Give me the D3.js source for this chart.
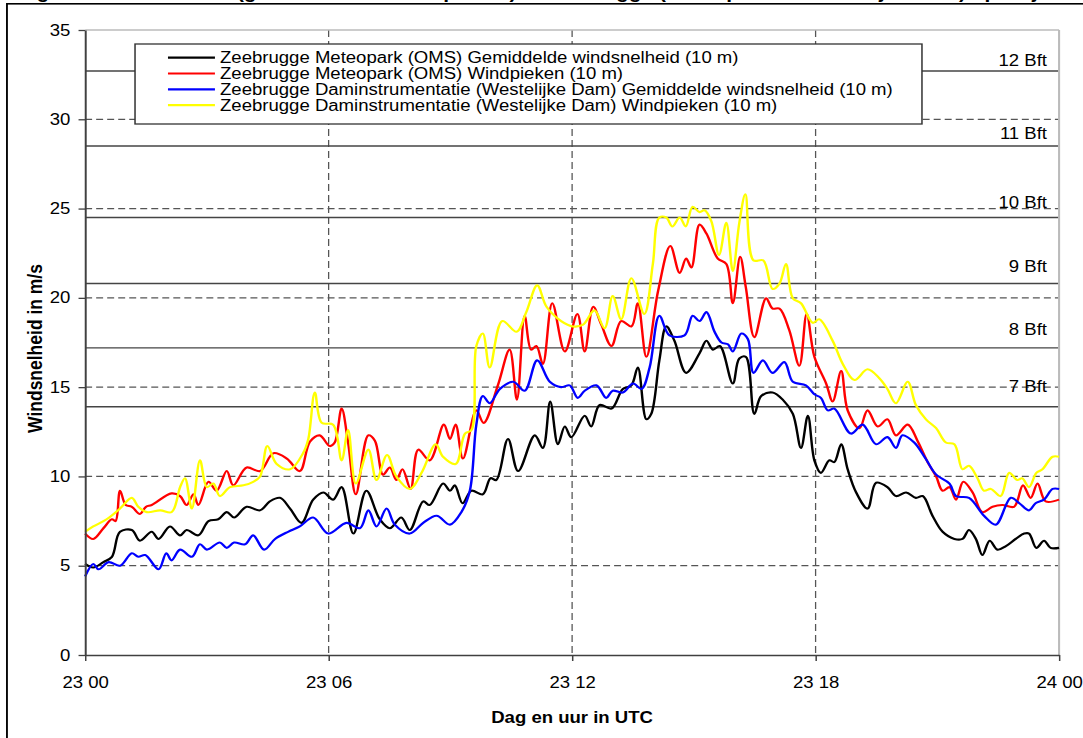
<!DOCTYPE html>
<html>
<head>
<meta charset="utf-8">
<script src="https://cdn.jsdelivr.net/npm/d3@7"></script>
<style>
  body { margin: 0; background: #fff; }
  text { font-family: "Liberation Sans", Arial, sans-serif; }
</style>
</head>
<body>
<div id="chart"></div>
<script>
// time in hours since 23 00 UTC, wind speed in m/s
let omsMean = [[0,5.1],[0.2,4.9],[0.45,5.2],[0.66,5.5],[0.86,6.9],[1.15,7.0],[1.35,6.4],[1.64,6.9],[1.81,6.5],[2.09,7.2],[2.34,6.7],[2.5,7.0],[2.79,6.7],[3.04,7.5],[3.28,7.6],[3.49,8.0],[3.67,7.7],[3.98,8.3],[4.31,8.1],[4.55,8.6],[4.8,8.8],[5.05,8.2],[5.33,7.4],[5.62,8.7],[5.87,9.1],[6.11,8.7],[6.32,9.4],[6.61,6.8],[6.93,9.2],[7.26,7.6],[7.51,7.1],[7.79,7.7],[8.0,7.0],[8.33,8.6],[8.49,8.4],[8.82,9.6],[8.99,9.2],[9.11,9.5],[9.3,8.5],[9.52,9.2],[9.8,9.0],[9.99,9.9],[10.13,9.8],[10.42,12.1],[10.67,10.3],[11.08,12.3],[11.28,11.6],[11.46,14.2],[11.65,11.8],[11.82,12.8],[11.98,12.2],[12.31,13.4],[12.47,12.8],[12.68,14.0],[12.97,13.8],[13.25,14.9],[13.46,15.1],[13.62,16.1],[13.83,13.2],[13.95,13.5],[14.15,16.5],[14.32,18.4],[14.52,17.6],[14.81,15.8],[15.14,16.9],[15.31,17.6],[15.47,17.1],[15.64,17.3],[15.96,15.2],[16.12,16.6],[16.28,16.7],[16.49,13.5],[16.66,14.5],[16.94,14.7],[17.19,14.3],[17.44,13.5],[17.64,11.6],[17.81,13.4],[17.97,10.9],[18.13,10.2],[18.34,10.9],[18.46,10.8],[18.63,11.8],[18.79,10.4],[19.0,9.1],[19.28,8.2],[19.49,9.65],[19.77,9.4],[19.98,8.9],[20.23,9.1],[20.47,8.8],[20.64,8.9],[20.88,7.8],[21.13,6.9],[21.42,6.5],[21.62,6.5],[21.78,7.0],[21.95,6.5],[22.11,5.6],[22.29,6.4],[22.48,5.9],[22.69,6.1],[22.93,6.5],[23.14,6.8],[23.26,6.8],[23.44,6.0],[23.63,6.4],[23.79,6.0],[24,6.0]];

let omsGust = [[0,6.8],[0.2,6.5],[0.45,7.1],[0.66,7.6],[0.75,7.5],[0.86,9.2],[1.0,8.4],[1.15,8.3],[1.35,7.9],[1.5,8.3],[1.64,8.4],[2.13,9.05],[2.34,8.9],[2.5,8.4],[2.67,9.0],[2.79,8.4],[3.04,9.7],[3.24,9.2],[3.49,10.3],[3.65,9.5],[3.98,10.5],[4.31,10.3],[4.64,11.3],[4.97,11.0],[5.29,10.3],[5.54,11.95],[5.78,12.3],[6.03,11.7],[6.15,11.9],[6.32,13.8],[6.48,11.9],[6.67,9.0],[6.98,12.3],[7.14,12.0],[7.34,10.1],[7.51,10.5],[7.67,9.8],[7.82,10.4],[8.02,9.3],[8.21,11.5],[8.49,10.9],[8.84,12.9],[8.99,12.1],[9.13,12.9],[9.31,11.0],[9.64,13.7],[9.82,13.0],[10.17,15.1],[10.46,17.1],[10.64,14.3],[10.83,19.0],[10.99,17.1],[11.12,17.3],[11.28,16.3],[11.51,19.7],[11.82,17.0],[12.13,19.1],[12.31,17.0],[12.52,19.5],[12.72,18.5],[12.97,17.3],[13.21,18.7],[13.46,18.4],[13.62,19.7],[13.83,16.7],[14.12,20.4],[14.42,22.9],[14.65,21.4],[14.81,22.2],[14.94,21.7],[15.14,24.1],[15.31,23.6],[15.59,22.2],[15.8,21.9],[15.96,19.7],[16.14,22.3],[16.28,20.6],[16.49,17.8],[16.78,19.97],[16.94,19.4],[17.11,19.4],[17.35,18.2],[17.6,16.2],[17.78,19.1],[17.97,16.7],[18.26,15.2],[18.42,14.2],[18.63,15.9],[18.79,13.7],[19.08,12.7],[19.28,13.7],[19.53,12.8],[19.77,13.2],[19.98,12.3],[20.27,12.9],[20.51,12.0],[20.76,10.8],[20.97,10.0],[21.13,9.2],[21.3,9.4],[21.46,8.7],[21.64,9.7],[21.87,9.1],[22.11,8.0],[22.36,8.3],[22.6,8.4],[22.89,8.3],[23.11,9.5],[23.3,8.8],[23.47,9.6],[23.67,8.6],[24,8.7]];

let damMean = [[0,4.4],[0.2,5.1],[0.33,4.8],[0.58,5.2],[0.86,5.0],[1.15,5.7],[1.31,5.5],[1.48,5.6],[1.81,4.8],[2.0,5.7],[2.13,5.3],[2.34,5.9],[2.63,5.5],[2.83,6.2],[3.0,5.9],[3.32,6.3],[3.49,6.0],[3.67,6.3],[3.94,6.2],[4.14,6.7],[4.41,5.9],[4.68,6.5],[5.0,6.9],[5.29,7.2],[5.62,7.7],[5.99,6.8],[6.44,7.4],[6.77,7.1],[6.98,8.1],[7.18,7.2],[7.43,8.2],[7.63,7.3],[8.0,6.8],[8.33,7.4],[8.66,7.8],[8.99,7.3],[9.27,8.0],[9.48,9.2],[9.64,12.9],[9.8,14.5],[9.97,14.1],[10.22,14.9],[10.55,15.3],[10.83,14.8],[11.14,16.5],[11.45,15.3],[11.73,15.0],[11.94,15.1],[12.14,14.4],[12.31,14.8],[12.6,15.1],[12.84,14.4],[13.0,14.8],[13.25,14.7],[13.5,15.2],[13.71,14.9],[13.91,16.1],[14.15,19.0],[14.4,17.9],[14.77,17.9],[14.97,19.0],[15.14,18.7],[15.31,19.2],[15.51,18.1],[15.68,17.5],[15.84,17.4],[15.96,17.0],[16.17,18.0],[16.33,17.7],[16.47,15.8],[16.7,16.5],[16.94,15.8],[17.23,16.4],[17.44,15.3],[17.76,15.1],[17.97,14.6],[18.13,14.4],[18.3,13.7],[18.46,13.8],[18.87,12.4],[19.16,12.9],[19.49,11.8],[19.77,12.2],[19.98,11.6],[20.14,12.3],[20.43,11.9],[20.71,11.0],[20.97,10.1],[21.3,9.6],[21.46,8.9],[21.78,8.8],[22.15,7.8],[22.44,7.3],[22.81,8.8],[23.02,8.5],[23.26,8.1],[23.42,8.5],[23.63,8.7],[23.84,9.3],[24,9.3]];

let damGust = [[0,6.9],[0.2,7.2],[0.53,7.6],[0.86,8.2],[1.15,8.8],[1.31,8.3],[1.52,8.0],[1.85,8.1],[2.13,8.0],[2.34,9.4],[2.46,9.9],[2.63,8.2],[2.83,10.9],[3.0,9.4],[3.16,9.6],[3.32,8.9],[3.57,9.4],[3.9,9.5],[4.14,9.7],[4.31,10.0],[4.49,11.7],[4.72,10.7],[5.05,10.4],[5.37,11.3],[5.5,12.1],[5.66,14.7],[5.83,13.0],[6.11,12.9],[6.32,10.9],[6.48,12.6],[6.67,9.6],[6.98,11.5],[7.18,9.8],[7.44,11.2],[7.67,10.0],[8.0,9.3],[8.29,10.2],[8.64,11.8],[8.82,11.1],[9.13,10.7],[9.36,12.4],[9.52,12.6],[9.64,17.3],[9.8,18.0],[9.97,16.1],[10.28,18.7],[10.63,18.1],[10.87,19.2],[11.14,20.7],[11.37,19.5],[11.73,18.7],[12.02,18.4],[12.27,18.5],[12.55,19.3],[12.8,18.3],[13.0,20.1],[13.21,18.8],[13.46,21.1],[13.78,19.1],[13.99,21.9],[14.15,24.5],[14.32,24.5],[14.47,24.0],[14.65,24.5],[14.8,24.0],[14.97,25.1],[15.14,24.8],[15.26,24.9],[15.43,24.3],[15.62,22.4],[15.8,24.2],[15.96,21.5],[16.12,24.2],[16.27,25.8],[16.47,22.1],[16.71,22.1],[16.94,20.5],[17.11,20.8],[17.27,21.9],[17.44,19.97],[17.64,19.7],[17.93,18.6],[18.09,18.8],[18.42,17.6],[18.67,16.3],[18.96,15.4],[19.28,16.0],[19.57,15.5],[19.77,14.9],[19.98,14.1],[20.27,15.3],[20.47,14.0],[20.72,13.2],[20.97,12.7],[21.21,11.9],[21.42,11.8],[21.62,10.4],[21.78,10.6],[21.99,9.9],[22.15,9.2],[22.32,9.3],[22.56,8.9],[22.77,10.2],[22.97,9.8],[23.09,9.9],[23.26,9.4],[23.44,10.2],[23.59,10.4],[23.84,11.1],[24,11.1]];

let seriesNames = [
    "Zeebrugge Meteopark (OMS) Gemiddelde windsnelheid (10 m)",
    "Zeebrugge Meteopark (OMS) Windpieken (10 m)",
    "Zeebrugge Daminstrumentatie (Westelijke Dam) Gemiddelde windsnelheid (10 m)",
    "Zeebrugge Daminstrumentatie (Westelijke Dam) Windpieken (10 m)"
];
let seriesColors = ["#000000", "#ff0000", "#0000ff", "#ffff00"];

let hourTicks = [0, 6, 12, 18, 24];
let hourLabels = ["23 00", "23 06", "23 12", "23 18", "24 00"];
let speedTicks = [0, 5, 10, 15, 20, 25, 30, 35];

// Beaufort thresholds (m/s)
let bftLevels = [13.9, 17.2, 20.8, 24.5, 28.5, 32.7];
let bftLabels = ["7 Bft", "8 Bft", "9 Bft", "10 Bft", "11 Bft", "12 Bft"];

let width = 1083,
    height = 738;
let stretch = 1.16;   // the original picture is a bit wider than tall

let svg = d3.select("#chart")
    .append("svg")
    .attr("width", width)
    .attr("height", height);

let g = svg.append("g")
    .attr("transform", `scale(${stretch},1)`);

let plot = {left: 73.4, right: 913, top: 30, bottom: 655};

let x = d3.scaleLinear().domain([0, 24]).range([plot.left, plot.right]);
let y = d3.scaleLinear().domain([0, 35]).range([plot.bottom, plot.top]);

// cut-off title above the frame
g.append("text")
    .attr("x", 15.5)
    .attr("y", -2.5)
    .style("font-size", "18px")
    .style("font-weight", "bold")
    .text("Figuur: Windsnelheid (gemiddelde en windpieken) te Zeebrugge (Meteopark en Westelijke Dam) op 23 januari");

// outer frame
g.append("rect")
    .attr("x", 6)
    .attr("y", 3.8)
    .attr("width", 1000)
    .attr("height", 800)
    .attr("fill", "none")
    .attr("stroke", "#000")
    .attr("stroke-width", 1.6);

// horizontal dashed grid
g.append("g").selectAll("line")
    .data(speedTicks.filter(d => d > 0 && d < 35))
    .enter().append("line")
    .attr("x1", plot.left).attr("x2", plot.right)
    .attr("y1", d => y(d)).attr("y2", d => y(d))
    .attr("stroke", "#555")
    .attr("stroke-width", 1.2)
    .attr("stroke-dasharray", "6,3.5");

// vertical dashed grid
g.append("g").selectAll("line")
    .data(hourTicks.filter(d => d > 0 && d < 24))
    .enter().append("line")
    .attr("x1", d => x(d)).attr("x2", d => x(d))
    .attr("y1", plot.top).attr("y2", plot.bottom)
    .attr("stroke", "#555")
    .attr("stroke-width", 1.1)
    .attr("stroke-dasharray", "7,4");

// Beaufort lines and labels
g.append("g").selectAll("line")
    .data(bftLevels)
    .enter().append("line")
    .attr("x1", plot.left).attr("x2", plot.right)
    .attr("y1", d => y(d)).attr("y2", d => y(d))
    .attr("stroke", "#444")
    .attr("stroke-width", 1.4);

g.append("g").selectAll("text")
    .data(bftLevels)
    .enter().append("text")
    .attr("x", 902.6)
    .attr("y", d => y(d) - (11 + (32.7 - d) * 0.5))
    .attr("dy", "0.36em")
    .style("text-anchor", "end")
    .style("font-size", "16px")
    .text((d, i) => bftLabels[i]);

// plot border (top and right)
g.append("line")
    .attr("x1", plot.left).attr("x2", plot.right)
    .attr("y1", plot.top).attr("y2", plot.top)
    .attr("stroke", "#bbb").attr("stroke-width", 1.6);
g.append("line")
    .attr("x1", plot.right).attr("x2", plot.right)
    .attr("y1", plot.top).attr("y2", plot.bottom)
    .attr("stroke", "#bbb").attr("stroke-width", 1.8);

// series
let line = d3.line()
    .x(d => x(d[0]))
    .y(d => y(d[1]))
    .curve(d3.curveCatmullRom.alpha(0.5));

let allSeries = [omsMean, omsGust, damMean, damGust];
g.append("g").selectAll("path")
    .data(allSeries)
    .enter().append("path")
    .attr("d", line)
    .attr("fill", "none")
    .attr("stroke", (d, i) => seriesColors[i])
    .attr("stroke-width", 2.1)
    .attr("stroke-linejoin", "round");

// axes
let yAxis = g.append("g")
    .attr("transform", `translate(${plot.left},0)`)
    .call(d3.axisLeft(y).tickValues(speedTicks).tickSize(5.7).tickPadding(7).tickSizeOuter(0));
let xAxis = g.append("g")
    .attr("transform", `translate(0,${plot.bottom})`)
    .call(d3.axisBottom(x).tickValues(hourTicks).tickFormat((d, i) => hourLabels[i])
        .tickSize(6).tickPadding(16).tickSizeOuter(0));

[yAxis, xAxis].forEach(a => {
    a.select(".domain").attr("stroke", "#404040").attr("stroke-width", 1.7);
    a.selectAll(".tick line").attr("stroke", "#404040").attr("stroke-width", 1.3);
    a.selectAll(".tick text")
        .attr("fill", "#000")
        .style("font-size", "16px")
        .style("font-family", "'Liberation Sans', Arial, sans-serif");
});

// axis titles
g.append("text")
    .attr("transform", `translate(30.5, ${(plot.top + plot.bottom) / 2 + 6}) rotate(-90)`)
    .attr("dy", "0.35em")
    .style("text-anchor", "middle")
    .style("font-size", "17.5px")
    .style("font-weight", "bold")
    .text("Windsnelheid in m/s");

g.append("text")
    .attr("x", (plot.left + plot.right) / 2)
    .attr("y", 717)
    .attr("dy", "0.35em")
    .style("text-anchor", "middle")
    .style("font-size", "16px")
    .style("font-weight", "bold")
    .text("Dag en uur in UTC");

// legend
let legend = g.append("g");
legend.append("rect")
    .attr("x", 116.4).attr("y", 44)
    .attr("width", 678.4).attr("height", 80)
    .attr("fill", "#fff")
    .attr("stroke", "#333")
    .attr("stroke-width", 1.3);

let rows = legend.selectAll("g.row")
    .data(seriesNames)
    .enter().append("g")
    .attr("class", "row")
    .attr("transform", (d, i) => `translate(0, ${57.7 + i * 15.8})`);
rows.append("line")
    .attr("x1", 144.8).attr("x2", 185.3)
    .attr("stroke", (d, i) => seriesColors[i])
    .attr("stroke-width", 2.2);
rows.append("text")
    .attr("x", 189.7)
    .attr("dy", "0.36em")
    .style("font-size", "16px")
    .text(d => d);
</script>
</body>
</html>
